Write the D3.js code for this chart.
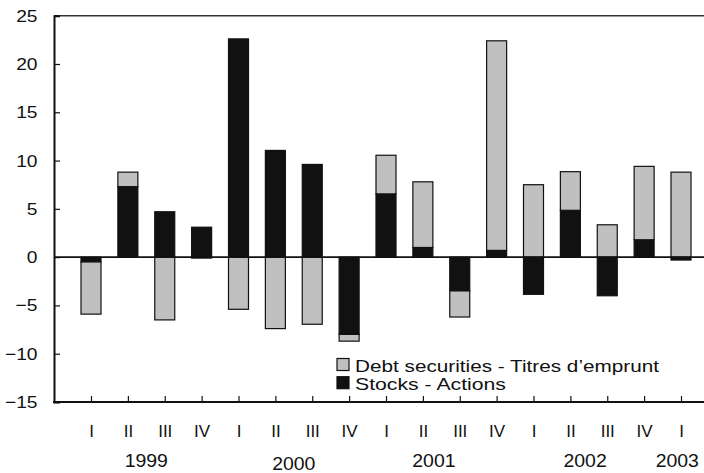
<!DOCTYPE html>
<html>
<head>
<meta charset="utf-8">
<script src="https://cdn.jsdelivr.net/npm/d3@7"></script>
<style>
  html, body { margin: 0; padding: 0; background: #fff; }
  text { font-family: "Liberation Sans", Arial, sans-serif; fill: #111; }
</style>
</head>
<body>
<svg id="chart" width="704" height="473"></svg>
<script>
const quarters = ["I","II","III","IV","I","II","III","IV","I","II","III","IV","I","II","III","IV","I"];
const years = ["1999","2000","2001","2002","2003"];
const yearLabelIndex = [1.5, 5.5, 9.3, 13.4, 15.9];
const stocks = [-0.5, 7.3, 4.7, 3.1, 22.6, 11.05, 9.6, -8.0, 6.55, 1.0, -3.5, 0.7, -3.85, 4.85, -4.0, 1.8, -0.3];
const debt   = [-5.4, 1.5, -6.5, -0.1, -5.4, -7.4, -6.95, -0.7, 4.0, 6.8, -2.7, 21.7, 7.5, 4.0, 3.35, 7.6, 8.8];
const yTicks = [25, 20, 15, 10, 5, 0, -5, -10, -15];
const seriesNames = ["Debt securities - Titres d\u2019emprunt", "Stocks - Actions"];
const colors = { debt: "#c0c0c0", stocks: "#111111" };

const svg = d3.select("#chart");
const mLeft = 54, mRight = 704, mTop = 15.7, mBottom = 402;

const y = d3.scaleLinear().domain([-15, 25]).range([mBottom, mTop]);
const x = d3.scaleLinear().domain([0, 16]).range([91, 681]);
const barW = 20;

function stretch(sel, f) {
  sel.each(function() {
    const w = this.getComputedTextLength();
    d3.select(this).attr("textLength", w * f).attr("lengthAdjust", "spacingAndGlyphs");
  });
}

function segs(i) {
  const s = stocks[i], d = debt[i];
  const out = [];
  out.push({k: "stocks", y0: 0, y1: s});
  if ((d >= 0) === (s >= 0)) out.push({k: "debt", y0: s, y1: s + d});
  else out.push({k: "debt", y0: 0, y1: d});
  return out;
}

const g = svg.append("g");
quarters.forEach((q, i) => {
  segs(i).forEach(sg => {
    const ya = y(Math.max(sg.y0, sg.y1)), yb = y(Math.min(sg.y0, sg.y1));
    g.append("rect")
      .attr("x", x(i) - barW / 2)
      .attr("y", ya)
      .attr("width", barW)
      .attr("height", Math.max(0, yb - ya))
      .attr("fill", colors[sg.k])
      .attr("stroke", "#111")
      .attr("stroke-width", 1.2);
  });
});

svg.append("line").attr("x1", mLeft).attr("x2", mRight).attr("y1", mTop).attr("y2", mTop)
  .attr("stroke", "#333").attr("stroke-width", 1.5);
svg.append("line").attr("x1", mLeft).attr("x2", mRight).attr("y1", y(0)).attr("y2", y(0))
  .attr("stroke", "#111").attr("stroke-width", 1.8);

const yAxis = d3.axisLeft(y).tickValues(yTicks).tickSize(-6).tickPadding(16.5).tickFormat(d3.format("d"));
const yaG = svg.append("g").attr("transform", `translate(${mLeft},0)`).call(yAxis);
yaG.select(".domain").attr("stroke", "#111").attr("stroke-width", 2);
yaG.selectAll(".tick line").attr("stroke", "#111").attr("stroke-width", 1.2);
yaG.selectAll(".tick text").attr("font-size", 17).attr("font-family", "Liberation Sans, Arial, sans-serif").attr("fill", "#111");
stretch(yaG.selectAll(".tick text"), 1.13);

const xAxis = d3.axisBottom(x).tickValues(d3.range(quarters.length)).tickSize(-6).tickFormat(i => quarters[i]).tickPadding(23);
const xaG = svg.append("g").attr("transform", `translate(0,${mBottom})`).call(xAxis);
xaG.select(".domain").remove();
svg.append("line").attr("x1", mLeft - 1).attr("x2", mRight).attr("y1", mBottom).attr("y2", mBottom)
  .attr("stroke", "#111").attr("stroke-width", 2);
xaG.selectAll(".tick line").attr("stroke", "#111").attr("stroke-width", 1.2);
xaG.selectAll(".tick text").attr("font-size", 17).attr("font-family", "Liberation Sans, Arial, sans-serif").attr("fill", "#111");

const yearY = [466.7, 469.5, 466.7, 466.7, 466.7];
const yearSel = svg.append("g").selectAll("text").data(years).join("text")
  .attr("x", (d, j) => x(yearLabelIndex[j])).attr("y", (d, j) => yearY[j])
  .attr("text-anchor", "middle").attr("font-size", 18).text(d => d);
stretch(yearSel, 1.08);

const lg = svg.append("g");
const legendLens = [304, 151];
[["debt", seriesNames[0], 358.5], ["stocks", seriesNames[1], 376.7]].forEach(([k, name, yy], j) => {
  lg.append("rect").attr("x", 337).attr("y", yy).attr("width", 12).attr("height", 12)
    .attr("fill", colors[k]).attr("stroke", "#111").attr("stroke-width", 1.2);
  lg.append("text").attr("x", 355).attr("y", yy + 13).attr("font-size", 16.5)
    .attr("textLength", legendLens[j]).attr("lengthAdjust", "spacingAndGlyphs").text(name);
});
</script>
</body>
</html>
